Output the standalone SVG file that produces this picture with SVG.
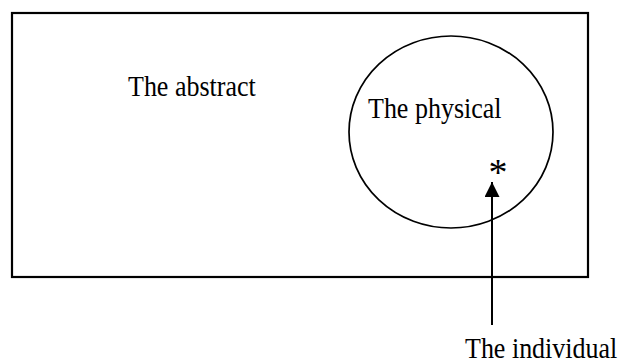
<svg xmlns="http://www.w3.org/2000/svg" width="623" height="363" viewBox="0 0 623 363">
<style>
.t{font-family:"Liberation Serif","Times New Roman",serif;font-size:26px;fill:#000}
.s{fill:none;stroke:#000}
</style>
<defs>
<marker id="ah" viewBox="0 0 15 15" refX="15" refY="7.5" markerWidth="15" markerHeight="15" markerUnits="userSpaceOnUse" orient="auto">
<path d="M0,0 L15,7.5 L0,15 Z" fill="#000"/>
</marker>
</defs>
<rect width="623" height="363" fill="#fff"/>
<g id="abstract">
<rect class="s" x="12" y="13" width="576" height="264" stroke-width="2.2"/>
<text class="t" transform="translate(128,96) scale(1,1.12)">The abstract</text>
</g>
<g id="physical">
<ellipse class="s" cx="451" cy="132" rx="102" ry="96" stroke-width="1.7"/>
<text class="t" transform="translate(368,118) scale(1,1.12)">The physical</text>
</g>
<g id="individual">
<text class="t" x="498" y="185" text-anchor="middle" style="font-size:38px">*</text>
<text class="t" transform="translate(465,358) scale(1,1.12)">The individual</text>
</g>
<g id="connectors">
<line class="s" x1="492" y1="325" x2="492" y2="182" stroke-width="2" marker-end="url(#ah)"/>
</g>
</svg>
